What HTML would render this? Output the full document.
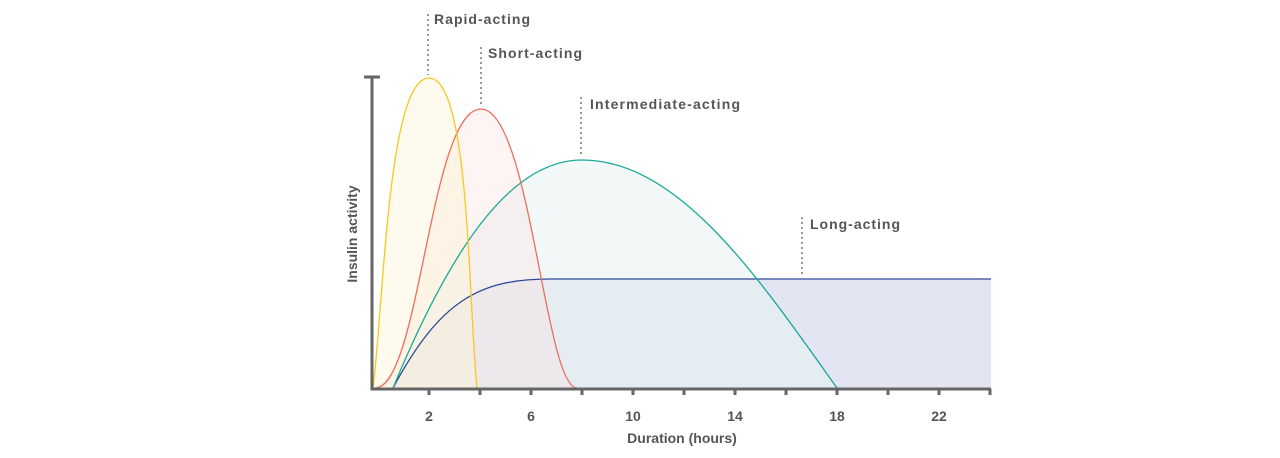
<!DOCTYPE html>
<html><head><meta charset="utf-8"><style>
body{margin:0;background:#fff;}
svg{display:block;font-family:"Liberation Sans",sans-serif;font-weight:bold;}
</style></head><body>
<svg width="1280" height="458" viewBox="0 0 1280 458">
<path d="M393,388 C440,300 480,279 550,279 L991,279 L991,388 Z" fill="#e3e5f2"/>
<path d="M393,388 C450,250 510,160 582,160 C680,160 760,280 837,388 Z" fill="#e8f3f2" fill-opacity="0.55"/>
<path d="M375,388 C420,388 430,109 481,109 C530,109 545,388 577,388 Z" fill="#fbe4e0" fill-opacity="0.4"/>
<path d="M373,388 C384,300 388,78 429,78 C470,78 468,300 477,388 Z" fill="#fdf3d8" fill-opacity="0.45"/>
<path d="M393,388 C440,300 480,279 550,279 L991,279" fill="none" stroke="#2e4a9a" stroke-width="1.3"/>
<path d="M393,388 C450,250 510,160 582,160 C680,160 760,280 837,388" fill="none" stroke="#1aa89a" stroke-width="1.3"/>
<path d="M375,388 C420,388 430,109 481,109 C530,109 545,388 577,388" fill="none" stroke="#ee6d5e" stroke-width="1.3"/>
<path d="M373,388 C384,300 388,78 429,78 C470,78 468,300 477,388" fill="none" stroke="#f7c81e" stroke-width="1.3"/>
<g stroke="#666" stroke-width="3" fill="none">
<path d="M372,77 L372,389 L991,389"/>
<path d="M364,77 L380,77"/>
<path d="M429,389v6M480,389v6M531,389v6M582,389v6M633,389v6M684,389v6M735,389v6M786,389v6M837,389v6M888,389v6M939,389v6M990,389v6"/>
</g>
<g stroke="#999" stroke-width="2" stroke-dasharray="2,3">
<path d="M428,14V75M481,47V106M581,97V157M802,217V277"/>
</g>
<g fill="#555" font-size="14">
<text x="434" y="24" textLength="96">Rapid-acting</text>
<text x="488" y="58" textLength="94">Short-acting</text>
<text x="590" y="109" textLength="150">Intermediate-acting</text>
<text x="810" y="229" textLength="90">Long-acting</text>
</g>
<g fill="#555" font-size="14" text-anchor="middle">
<text x="429" y="421">2</text><text x="531" y="421">6</text><text x="633" y="421">10</text>
<text x="735" y="421">14</text><text x="837" y="421">18</text><text x="939" y="421">22</text>
<text x="682" y="443">Duration (hours)</text>
<text transform="translate(357,234) rotate(-90)">Insulin activity</text>
</g>
</svg>
</body></html>
